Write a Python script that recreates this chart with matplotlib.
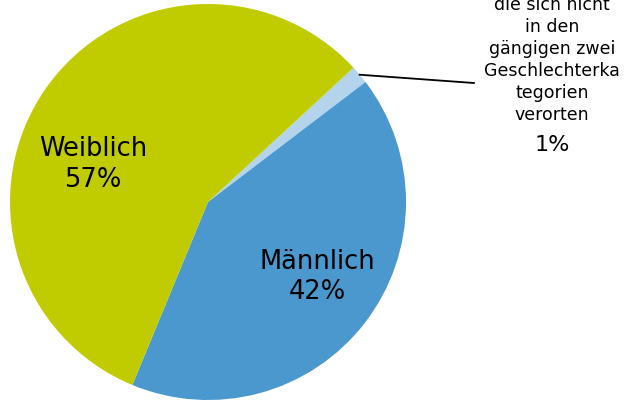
import numpy as np
import matplotlib.pyplot as plt

# anteile in prozent (im uhrzeigersinn ab oben rechts)
kategorien = ["andere", "Männlich", "Weiblich"]
werte = [1.5, 41.6, 56.9]
farben = ["#B4D4ED", "#4A98CE", "#C0CC00"]

label_weiblich = "Weiblich\n57%"
label_maennlich = "Männlich\n42%"
label_andere_zeilen = ["die sich nicht", "in den", "gängigen zwei",
                       "Geschlechterka", "tegorien", "verorten"]
label_andere_prozent = "1%"

W, H = 627, 401
fig = plt.figure(figsize=(W / 100, H / 100), dpi=100)
ax = fig.add_axes([10 / W, (H - 202 - 198) / H, 396 / W, 396 / H])

wedges, _ = ax.pie(werte, colors=farben, startangle=42.7, counterclock=False,
                   radius=1, wedgeprops=dict(linewidth=0))
ax.set_xlim(-1, 1)
ax.set_ylim(-1, 1)
ax.set_aspect("equal")
ax.axis("off")

ax.text(-0.58, 0.19, label_weiblich, ha="center", va="center",
        fontsize=18.5, linespacing=1.22)
ax.text(0.55, -0.38, label_maennlich, ha="center", va="center",
        fontsize=18.5, linespacing=1.22)

# fuehrungslinie zum kleinen segment
w = wedges[0]
mid = np.deg2rad((w.theta1 + w.theta2) / 2)
ax.plot([np.cos(mid), 1.343], [np.sin(mid), 0.601], color="black",
        lw=1.3, clip_on=False)

# beschriftung rechts oben
y0 = 5
for i, zeile in enumerate(label_andere_zeilen):
    fig.text(552 / W, 1 - (y0 + 22 * i) / H, zeile, ha="center", va="center",
             fontsize=12.5)
fig.text(552 / W, 1 - 145 / H, label_andere_prozent, ha="center",
         va="center", fontsize=16)

fig.savefig("out.png", dpi=100)
